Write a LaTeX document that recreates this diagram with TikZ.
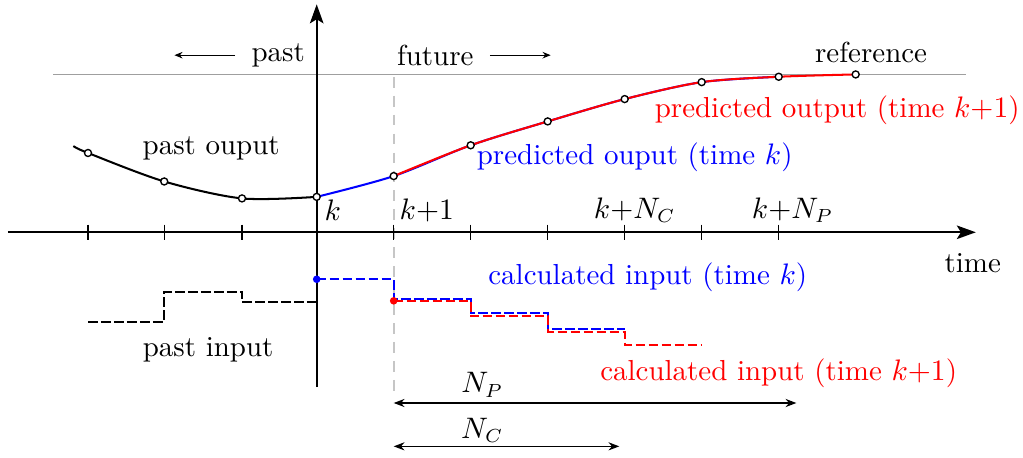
\documentclass[tikz,border=0pt]{standalone}
\usepackage{amsmath,tikz}
\usetikzlibrary{arrows.meta}

\begin{document}
\begin{tikzpicture}[>=Stealth,
  every node/.style={font=\fontsize{10.7}{13}\selectfont},
  axis/.style={line width=.75pt,-{Stealth[length=7pt,width=5pt,inset=1.5pt]}},
  axtick/.style={line width=.5pt},
  sample/.style={draw=black,fill=white,line width=.5pt},
  outline/.style={line width=.75pt},
  inputline/.style={line width=.75pt,dash pattern=on 3.6pt off 1.2pt},
  hint/.style={line width=.45pt,-{Stealth[length=3pt,width=2.4pt]}},
  dim/.style={line width=.5pt,{Stealth[length=4pt,width=3pt]}-{Stealth[length=4pt,width=3pt]}}]
\useasboundingbox (-4.113,-2.931) rectangle (9.173,3.017);

% reference and the k+1 marker
\coordinate (refL) at (-3.42,2.05);\coordinate (refR) at (8.43,2.05);
\draw[gray!75,line width=.5pt] (refL)--(refR);
\coordinate (nowT) at (1,2.02);\coordinate (nowB) at (1,-2.1);
\draw[gray!45,line width=.6pt,dash pattern=on 4pt off 3pt] (nowT)--(nowB);

% axes
\coordinate (xmin) at (-4.01,0);\coordinate (xmax) at (8.56,0);
\coordinate (ymin) at (0,-2.01);\coordinate (ymax) at (0,2.96);
\draw[axis] (xmin)--(xmax);\draw[axis] (ymin)--(ymax);
\foreach \t in {-2.97,-1.98,-.97,1,2,...,6} \draw[axtick] (\t,.1)--(\t,-.1);
\node (lk) at(.21,.29){$k$};\node (lk1) at(1.43,.29){$k{+}1$};
\node (lkc) at(4.13,.29){$k{+}N_C$};\node (lkp) at(6.18,.29){$k{+}N_P$};
\node (time) at(8.52,-.40){time};

% outputs
\coordinate (o0) at(-3.16,1.12);\coordinate (o1) at(-2.97,1.03);\coordinate (o2) at(-1.98,.66);
\coordinate (o3) at(-.97,.44);\coordinate (y0) at(0,.46);\coordinate (y1) at(1,.73);
\coordinate (y2) at(2,1.13);\coordinate (y3) at(3,1.44);\coordinate (y4) at(4,1.73);
\coordinate (y5) at(5,1.95);\coordinate (y6) at(6,2.02);\coordinate (y7) at(7,2.05);
\draw[outline] plot[smooth] coordinates{(o0)(o1)(o2)(o3)(y0)};
\draw[outline,blue] plot[smooth] coordinates{(y0)(y1)(y2)(y3)(y4)(y5)(y6)};
\draw[outline,red,yshift=.8pt] plot[smooth] coordinates{(y1)(y2)(y3)(y4)(y5)(y6)(y7)};
\foreach \p in {o1,o2,o3,y0,y1,y2,y3,y4,y5,y6,y7} \draw[sample] (\p) circle(1.3pt);

% inputs
\draw[inputline] (-2.97,-1.16)--(-1.98,-1.16)--(-1.98,-.77)--(-.97,-.77)--(-.97,-.91)--(0,-.91);
\draw[inputline,blue] (0,-.61)--(1,-.61)--(1,-.865)--(2,-.865)--(2,-1.045)--(3,-1.045)--(3,-1.26)--(4,-1.26);
\draw[inputline,red] (1,-.89)--(2,-.89)--(2,-1.085)--(3,-1.085)--(3,-1.29)--(4,-1.29)--(4,-1.46)--(5,-1.46);
\fill[blue] (0,-.61) circle(1.4pt);\fill[red] (1,-.89) circle(1.4pt);

% labels
\node[inner sep=1pt] (past) at(-.50,2.30){past};
\node[inner sep=1pt] (future) at(1.54,2.30){future};
\coordinate (pastend) at([xshift=-.96cm]past.west);\coordinate (futend) at([xshift=.96cm]future.east);
\draw[hint] ([xshift=-.17cm]past.west)--(pastend);\draw[hint] ([xshift=.17cm]future.east)--(futend);
\node (ref) at(7.20,2.34){reference};
\node[red] (predk1) at(6.76,1.59){predicted output (time $k{+}1$)};
\node[blue] (predk) at(4.13,.97){predicted ouput (time $k$)};
\node (pastout) at(-1.37,1.09){past ouput};
\node[blue] (calck) at(4.30,-.59){calculated input (time $k$)};
\node (pastin) at(-1.41,-1.53){past input};
\node[red] (calck1) at(6.00,-1.83){calculated input (time $k{+}1$)};

% horizons
\coordinate (np0) at(1,-2.217);\coordinate (np1) at(6.23,-2.217);
\coordinate (nc0) at(1,-2.78);\coordinate (nc1) at(3.93,-2.78);
\draw[dim] (np0)--(np1);\draw[dim] (nc0)--(nc1);
\node (NP) at(2.15,-1.98){$N_P$};\node (NC) at(2.15,-2.57){$N_C$};
\end{tikzpicture}
\end{document}
